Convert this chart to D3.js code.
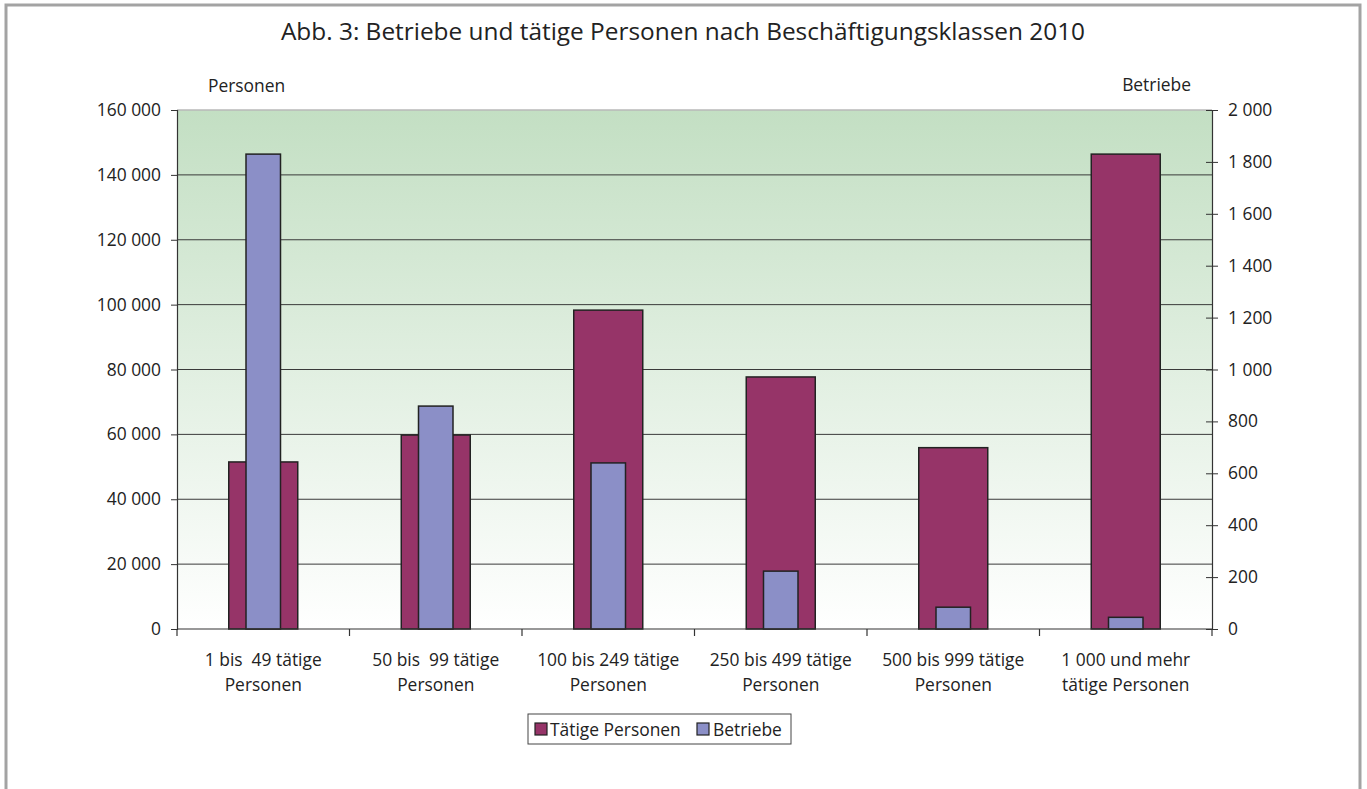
<!DOCTYPE html>
<html><head><meta charset="utf-8">
<script src="https://cdn.jsdelivr.net/npm/d3@7"></script>
<style>
body{margin:0;background:#fff;}
text{font-family:"Open Sans","Noto Sans",sans-serif;fill:#222;}
</style></head>
<body><svg id="c" width="1367" height="789"></svg>
<script>
const categories = [
  ["1 bis  49 tätige","Personen"],
  ["50 bis  99 tätige","Personen"],
  ["100 bis 249 tätige","Personen"],
  ["250 bis 499 tätige","Personen"],
  ["500 bis 999 tätige","Personen"],
  ["1 000 und mehr","tätige Personen"]
];
const personen = [51500, 59800, 98300, 77700, 55900, 146400];
const betriebe = [1830, 859, 640, 223, 84, 45];
const leftTicks = [0,20000,40000,60000,80000,100000,120000,140000,160000];
const rightTicks = [0,200,400,600,800,1000,1200,1400,1600,1800,2000];
const seriesNames = ["Tätige Personen","Betriebe"];
const colors = ["#963468","#8b8fc7"];

const svg = d3.select("#c");
const L=177, R=1212, T=110, B=629;
const FS = "17.4px";
const fmt = d => d3.format(",")(d).replace(/,/g," ");

// frame
svg.append("rect").attr("x",6).attr("y",5).attr("width",1354).attr("height",800)
  .attr("fill","none").attr("stroke","#a3a3a3").attr("stroke-width",3);

const x = d3.scaleBand().domain(d3.range(categories.length)).range([L,R]);
const yL = d3.scaleLinear().domain([0,160000]).range([B,T]);
const yR = d3.scaleLinear().domain([0,2000]).range([B,T]);

const defs = svg.append("defs");
const g = defs.append("linearGradient").attr("id","bg").attr("x1",0).attr("x2",0).attr("y1",0).attr("y2",1);
g.append("stop").attr("offset","0%").attr("stop-color","#c3dfc3");
g.append("stop").attr("offset","100%").attr("stop-color","#ffffff");
svg.append("rect").attr("x",L).attr("y",T).attr("width",R-L).attr("height",B-T).attr("fill","url(#bg)");
svg.append("line").attr("x1",L).attr("x2",R).attr("y1",T).attr("y2",T).attr("stroke","#b8b8b8").attr("stroke-width",1.5);

// gridlines
svg.append("g").selectAll("line").data(leftTicks.filter(d=>d>0 && d<160000)).join("line")
  .attr("x1",L).attr("x2",R).attr("y1",d=>yL(d)).attr("y2",d=>yL(d))
  .attr("stroke","#3a3a3a").attr("stroke-width",1);

// bars
const bw1 = x.bandwidth()*0.4, bw2 = x.bandwidth()*0.2;
svg.append("g").selectAll("rect").data(personen).join("rect")
  .attr("x",(d,i)=>x(i)+x.bandwidth()/2-bw1/2).attr("width",bw1)
  .attr("y",d=>yL(d)).attr("height",d=>B-yL(d))
  .attr("fill",colors[0]).attr("stroke","#222").attr("stroke-width",1.5);
svg.append("g").selectAll("rect").data(betriebe).join("rect")
  .attr("x",(d,i)=>x(i)+x.bandwidth()/2-bw2/2).attr("width",bw2)
  .attr("y",d=>yR(d)).attr("height",d=>B-yR(d))
  .attr("fill",colors[1]).attr("stroke","#222").attr("stroke-width",1.5);

// left axis
const ax1 = svg.append("g").attr("transform",`translate(${L},0)`)
  .call(d3.axisLeft(yL).tickValues(leftTicks).tickFormat(fmt).tickSize(6).tickPadding(10));
ax1.select(".domain").attr("stroke","#333").attr("stroke-width",1.2);
ax1.selectAll(".tick line").attr("stroke","#333");
ax1.selectAll("text").style("font-size",FS).attr("fill","#222");

// right axis
const ax2 = svg.append("g").attr("transform",`translate(${R},0)`)
  .call(d3.axisRight(yR).tickValues(rightTicks).tickFormat(fmt).tickSize(6).tickPadding(10));
ax2.select(".domain").attr("stroke","#333").attr("stroke-width",1.2);
ax2.selectAll(".tick line").attr("stroke","#333").attr("x1",-6);
ax2.selectAll("text").style("font-size",FS).attr("fill","#222");

// bottom axis
svg.append("line").attr("x1",L).attr("x2",R).attr("y1",B).attr("y2",B).attr("stroke","#333").attr("stroke-width",1.2);
svg.append("g").selectAll("line").data(d3.range(categories.length+1)).join("line")
  .attr("x1",i=>L+i*x.step()).attr("x2",i=>L+i*x.step()).attr("y1",B).attr("y2",B+7)
  .attr("stroke","#333").attr("stroke-width",1.2);
const xl = svg.append("g").selectAll("text").data(categories).join("text")
  .attr("x",(d,i)=>x(i)+x.bandwidth()/2).attr("y",666)
  .attr("text-anchor","middle").style("font-size",FS).style("white-space","pre");
xl.append("tspan").attr("x",(d,i)=>x(i)+x.bandwidth()/2).text(d=>d[0]);
xl.append("tspan").attr("x",(d,i)=>x(i)+x.bandwidth()/2).attr("dy",25).text(d=>d[1]);

// titles
svg.append("text").attr("x",683).attr("y",40).attr("text-anchor","middle").style("font-size","24.4px").text("Abb. 3: Betriebe und tätige Personen nach Beschäftigungsklassen 2010");
svg.append("text").attr("x",208).attr("y",92).style("font-size",FS).text("Personen");
svg.append("text").attr("x",1191).attr("y",91).attr("text-anchor","end").style("font-size",FS).text("Betriebe");

// legend
const lg = svg.append("g");
lg.append("rect").attr("x",528).attr("y",714).attr("width",263).attr("height",30).attr("fill","#fff").attr("stroke","#444").attr("stroke-width",1);
const items = [{x:535,tx:550},{x:697,tx:713}];
seriesNames.forEach((n,i)=>{
  lg.append("rect").attr("x",items[i].x).attr("y",723).attr("width",12).attr("height",12).attr("fill",colors[i]).attr("stroke","#222").attr("stroke-width",1.2);
  lg.append("text").attr("x",items[i].tx).attr("y",735.5).style("font-size",FS).text(n);
});
</script></body></html>
